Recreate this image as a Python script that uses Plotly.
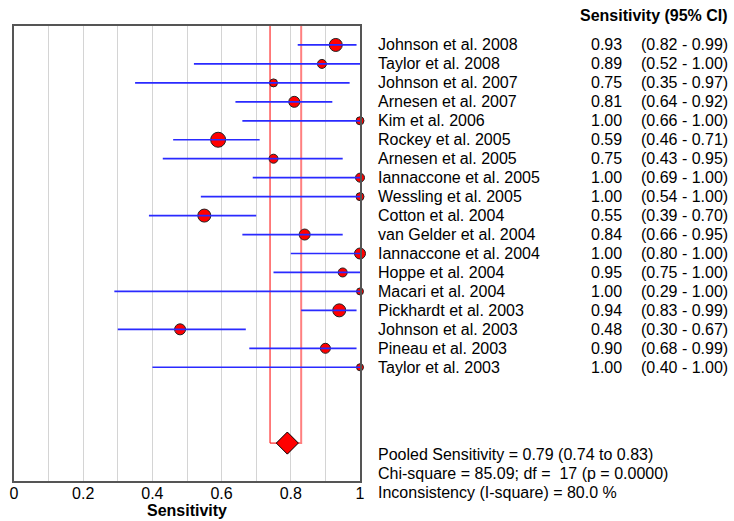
import plotly.graph_objects as go

studies = [
    "Johnson et al. 2008", "Taylor et al. 2008", "Johnson et al. 2007", "Arnesen et al. 2007",
    "Kim et al. 2006", "Rockey et al. 2005", "Arnesen et al. 2005", "Iannaccone et al. 2005",
    "Wessling et al. 2005", "Cotton et al. 2004", "van Gelder et al. 2004", "Iannaccone et al. 2004",
    "Hoppe et al. 2004", "Macari et al. 2004", "Pickhardt et al. 2003", "Johnson et al. 2003",
    "Pineau et al. 2003", "Taylor et al. 2003",
]
sens = [0.93, 0.89, 0.75, 0.81, 1.00, 0.59, 0.75, 1.00, 1.00, 0.55, 0.84, 1.00, 0.95, 1.00, 0.94, 0.48, 0.90, 1.00]
ci_lo = [0.82, 0.52, 0.35, 0.64, 0.66, 0.46, 0.43, 0.69, 0.54, 0.39, 0.66, 0.80, 0.75, 0.29, 0.83, 0.30, 0.68, 0.40]
ci_hi = [0.99, 1.00, 0.97, 0.92, 1.00, 0.71, 0.95, 1.00, 1.00, 0.70, 0.95, 1.00, 1.00, 1.00, 0.99, 0.67, 0.99, 1.00]
# relative study weight (drawn as marker diameter)
weights = [13, 9, 8, 11, 8, 15, 9, 9, 8, 13, 11, 11, 9, 7, 13, 11, 10, 7]

pooled, pooled_lo, pooled_hi = 0.79, 0.74, 0.83
stats_lines = [
    "Pooled Sensitivity = 0.79 (0.74 to 0.83)",
    "Chi-square = 85.09; df =  17 (p = 0.0000)",
    "Inconsistency (I-square) = 80.0 %",
]
tick_vals = [0, 0.2, 0.4, 0.6, 0.8, 1]
tick_text = ["0", "0.2", "0.4", "0.6", "0.8", "1"]

FONT = "Liberation Sans, Arial, sans-serif"
rows = list(range(len(studies)))
pooled_row = len(studies) + 3

fig = go.Figure()

# pooled CI box
fig.add_trace(go.Scatter(x=[pooled_lo, pooled_lo, pooled], y=[-1, pooled_row, pooled_row],
                         mode="lines", line=dict(color="red", width=1), hoverinfo="skip"))
fig.add_trace(go.Scatter(x=[pooled, pooled_hi, pooled_hi], y=[pooled_row, pooled_row, -1],
                         mode="lines", line=dict(color="#ff8080", width=2), hoverinfo="skip"))

fig.add_trace(go.Scatter(
    x=sens, y=rows, mode="markers",
    marker=dict(size=weights, color="red", opacity=1, line=dict(color="#222", width=1)),
    cliponaxis=False, hoverinfo="skip",
))

xs, ys = [], []
for lo, hi, r in zip(ci_lo, ci_hi, rows):
    xs += [lo, hi, None]
    ys += [r, r, None]
fig.add_trace(go.Scatter(x=xs, y=ys, mode="lines", line=dict(color="#2a2aff", width=1.7),
                         hoverinfo="skip"))

fig.add_trace(go.Scatter(
    x=[pooled], y=[pooled_row], mode="markers",
    marker=dict(symbol="diamond", size=17, color="red", line=dict(color="black", width=1)),
    hoverinfo="skip",
))

ann = []
txt = dict(family=FONT, size=16, color="black")
for name, s, lo, hi, r in zip(studies, sens, ci_lo, ci_hi, rows):
    ann.append(dict(x=1.047, y=r, xref="paper", yref="y", text=name, showarrow=False,
                    xanchor="left", yanchor="middle", font=txt))
    ann.append(dict(x=1.763, y=r, xref="paper", yref="y", text=f"{s:.2f}", showarrow=False,
                    xanchor="right", yanchor="middle", font=txt))
    ann.append(dict(x=2.068, y=r, xref="paper", yref="y", text=f"({lo:.2f} - {hi:.2f})",
                    showarrow=False, xanchor="right", yanchor="middle", font=txt))
ann.append(dict(x=2.068, y=1.024, xref="paper", yref="paper", text="<b>Sensitivity (95% CI)</b>",
                showarrow=False, xanchor="right", yanchor="middle", font=txt))
for i, line in enumerate(stats_lines):
    ann.append(dict(x=1.047, y=0.058 - i * 0.042, xref="paper", yref="paper", text=line,
                    showarrow=False, xanchor="left", yanchor="middle", font=txt))

fig.update_layout(
    width=734, height=521,
    margin=dict(l=14, r=374, t=26, b=40, autoexpand=False),
    plot_bgcolor="white", paper_bgcolor="white",
    showlegend=False,
    annotations=ann,
    font=dict(family=FONT, size=16, color="black"),
    xaxis=dict(
        range=[0, 1], tickvals=tick_vals, ticktext=tick_text, showgrid=False, zeroline=False,
        showline=True, mirror=True, linecolor="#555", linewidth=1.5, automargin=False,
        ticks="", tickfont=dict(size=16), ticklabelstandoff=-3,
        minor=dict(dtick=0.1, showgrid=True, gridcolor="#d4d4d4", gridwidth=1),
        title=dict(text="<b>Sensitivity</b>", font=dict(size=16), standoff=2),
    ),
    yaxis=dict(
        range=[pooled_row + 2, -1], showgrid=False, zeroline=False, showticklabels=False,
        showline=True, mirror=True, linecolor="#555", linewidth=1.5, ticks="", automargin=False,
    ),
)

fig.write_html("out.html", config={"displayModeBar": False},
               post_script="document.body.style.margin='0';")
